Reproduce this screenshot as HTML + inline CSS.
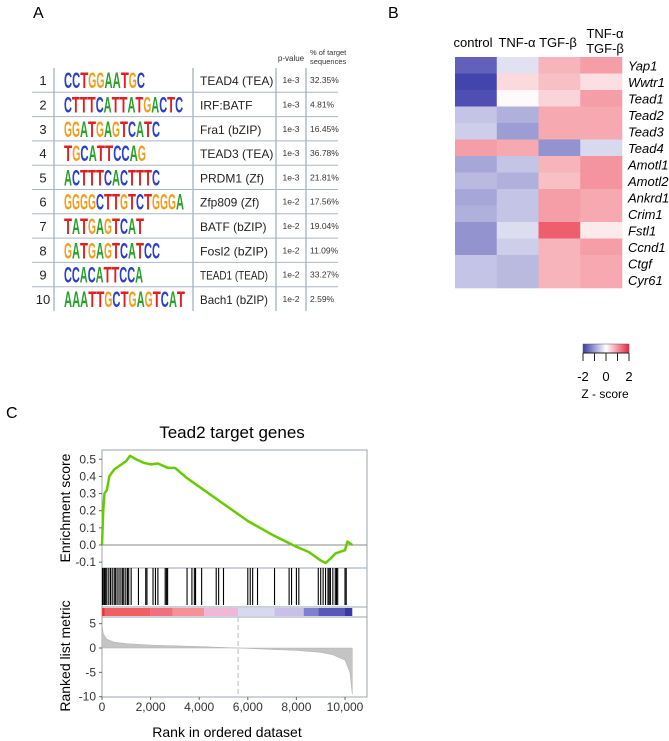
<!DOCTYPE html>
<html><head><meta charset="utf-8"><style>
body{margin:0;background:#fff;}
svg{display:block;font-family:"Liberation Sans",sans-serif;}
</style></head><body>
<svg id="fig" width="669" height="741" viewBox="0 0 669 741">
<text x="33" y="18" font-size="16">A</text>
<text x="388" y="18" font-size="16">B</text>
<text x="6" y="418" font-size="16">C</text>
<g id="tableA"></g>
<g id="heat"></g>
<g id="gsea"></g>
</svg>
<script>
const NS="http://www.w3.org/2000/svg";
function mk(p,t,a,txt){const e=document.createElementNS(NS,t);for(const k in a)e.setAttribute(k,a[k]);if(txt!==undefined)e.textContent=txt;p.appendChild(e);return e;}

// ---------- Panel A data ----------
const motifs=["CCTGGAATGC","CTTTCATTATGACTC","GGATGAGTCATC","TGCATTCCAG","ACTTTCACTTTC","GGGGCTTGTCTGGGA","TATGAGTCAT","GATGAGTCATCC","CCACATTCCA","AAATTGCTGAGTCAT"];
const motifNames=["TEAD4 (TEA)","IRF:BATF","Fra1 (bZIP)","TEAD3 (TEA)","PRDM1 (Zf)","Zfp809 (Zf)","BATF (bZIP)","Fosl2 (bZIP)","TEAD1 (TEAD)","Bach1 (bZIP)"];
const pvals=["1e-3","1e-3","1e-3","1e-3","1e-3","1e-2","1e-2","1e-2","1e-2","1e-2"];
const pcts=["32.35%","4.81%","16.45%","36.78%","21.81%","17.56%","19.04%","11.09%","33.27%","2.59%"];
const logoEnds=[145,183,160,146,160,184,144,160,143,185];
const baseCol={A:"#2aa02a",C:"#2a40c8",G:"#f0a020",T:"#e02020"};
(function(){
 const g=document.getElementById('tableA');
 const top=68,rh=24.3;
 mk(g,'text',{x:291,y:61,'font-size':8,'text-anchor':'middle',fill:'#333'},'p-value');
 mk(g,'text',{x:310,y:55,'font-size':7.5,fill:'#333'},'% of target');
 mk(g,'text',{x:310,y:64,'font-size':7.5,fill:'#333'},'sequences');
 [54,193,276,306].forEach(x=>{const l=mk(g,'line',{x1:x,x2:x,y1:top,y2:top+rh*10,stroke:'#8a9aa8','stroke-width':1});});
 for(let i=0;i<10;i++){
  const y=top+rh*i, cy=y+rh/2;
  const row=mk(g,'g',{});
  
  
  if(i<9){mk(row,'line',{x1:32,x2:338,y1:y+rh,y2:y+rh,stroke:'#a8b8c4','stroke-width':1});}
  mk(row,'text',{x:43,y:cy+5,'font-size':13,'text-anchor':'middle',fill:'#222'},String(i+1));
  const s=motifs[i], w=(logoEnds[i]-64)/s.length;
  for(let j=0;j<s.length;j++){
   mk(row,'text',{x:64+w*j,y:cy+8,'font-size':22,'font-weight':'bold',fill:baseCol[s[j]],textLength:w,lengthAdjust:'spacingAndGlyphs'},s[j]);
  }
  const nm=mk(row,'text',{x:200,y:cy+5,'font-size':12,fill:'#222'},motifNames[i]);
  if(motifNames[i].length>11){nm.setAttribute('textLength',68);nm.setAttribute('lengthAdjust','spacingAndGlyphs');}
  mk(row,'text',{x:291,y:cy+3,'font-size':8.5,'text-anchor':'middle',fill:'#333'},pvals[i]);
  mk(row,'text',{x:310,y:cy+3,'font-size':8.5,fill:'#333'},pcts[i]);
 }
})();

// ---------- Panel B data ----------
const conditions=["control","TNF-α","TGF-β","TNF-α/TGF-β"];
const genes=["Yap1","Wwtr1","Tead1","Tead2","Tead3","Tead4","Amotl1","Amotl2","Ankrd1","Crim1","Fstl1","Ccnd1","Ctgf","Cyr61"];
const zControl=[-1.6,-1.9,-1.8,-0.6,-0.5,0.9,-0.9,-0.7,-0.9,-0.8,-1.1,-1.1,-0.6,-0.6];
const zTNF=[-0.3,0.35,0.05,-0.8,-1.0,0.8,-0.6,-0.8,-0.6,-0.6,-0.35,-0.5,-0.7,-0.7];
const zTGF=[0.7,0.6,0.4,0.8,0.8,-1.1,0.7,0.6,0.9,0.9,1.5,0.7,0.7,0.7];
const zBoth=[0.9,0.3,0.9,0.8,0.8,-0.4,1.0,1.0,0.8,0.8,0.2,0.9,0.8,0.8];
const cbTicks=[-2,0,2];
function zcol(z){z=Math.max(-2,Math.min(2,z));let t=Math.abs(z)/2;let c=z<0?[58,58,170]:[232,40,60];
 const r=Math.round(255+(c[0]-255)*t),g=Math.round(255+(c[1]-255)*t),b=Math.round(255+(c[2]-255)*t);return `rgb(${r},${g},${b})`;}
(function(){
 const g=document.getElementById('heat');
 const x0=455,x1=622,y0=57,y1=288;const cw=(x1-x0)/4,rh=(y1-y0)/genes.length;
 const cols=[zControl,zTNF,zTGF,zBoth];
 cols.forEach((arr,c)=>arr.forEach((z,r)=>{const e=mk(g,'rect',{x:x0+c*cw,y:y0+r*rh,width:cw+0.3,height:rh+0.3,fill:zcol(z)});
  }));
 const hx=[473,517,558,605];
 conditions.forEach((c,i)=>{
  if(c.indexOf('/')>0){const p=c.split('/');mk(g,'text',{x:hx[i],y:38,'font-size':13,'text-anchor':'middle'},p[0]);mk(g,'text',{x:hx[i],y:53,'font-size':13,'text-anchor':'middle'},p[1]);}
  else mk(g,'text',{x:hx[i],y:47,'font-size':13,'text-anchor':'middle'},c);
 });
 genes.forEach((n,r)=>{const e=mk(g,'text',{x:628,y:y0+rh*r+rh/2+5,'font-size':13,'font-style':'italic'},n);});
 const bx0=583,bx1=629,by0=344,by1=353;
 const grad=mk(g,'defs',{});const lg=mk(grad,'linearGradient',{id:'cb',x1:0,x2:1,y1:0,y2:0});
 [-2,-1,0,1,2].forEach(z=>mk(lg,'stop',{offset:((z+2)/4),'stop-color':zcol(z)}));
 const cb=mk(g,'rect',{x:bx0,y:by0,width:bx1-bx0,height:by1-by0,fill:'url(#cb)',stroke:'#555','stroke-width':0.5});
 
 for(let k=0;k<5;k++){const x=bx0+(bx1-bx0)*k/4;mk(g,'line',{x1:x,x2:x,y1:by1,y2:by1+8,stroke:'#222'});}
 mk(g,'line',{x1:bx0,x2:bx1,y1:by1,y2:by1,stroke:'#222'});
 cbTicks.forEach(t=>mk(g,'text',{x:bx0+(bx1-bx0)*(t+2)/4,y:381,'font-size':13,'text-anchor':'middle'},String(t)));
 mk(g,'text',{x:605,y:398,'font-size':12,'text-anchor':'middle'},'Z - score');
})();

// ---------- Panel C data ----------
const esRanks=[0,50,100,200,300,500,700,1000,1150,1400,1700,2000,2300,2700,3000,3500,4000,5000,6000,7000,8000,8500,9000,9200,9400,9600,9800,10000,10100,10300];
const esValues=[0,0.2,0.3,0.32,0.4,0.44,0.46,0.49,0.52,0.5,0.48,0.47,0.475,0.45,0.45,0.39,0.34,0.24,0.14,0.06,-0.01,-0.04,-0.09,-0.105,-0.08,-0.05,-0.04,-0.03,0.02,0.0];
const hitRanks=[20,50,100,150,200,280,350,420,500,550,620,700,780,850,900,980,1050,1100,1200,1500,1800,1850,2100,2200,2300,2600,2650,2700,3500,3700,3800,3850,4100,4700,4800,5000,6000,6100,6200,6400,7100,7700,7800,8000,8100,8900,9000,9100,9200,9300,9350,9400,9500,9600,9650,9700,10000,10050];
const metricRanks=[0,50,200,500,1000,2000,4000,5600,7000,8000,9000,9500,10000,10200,10300];
const metricValues=[5,3,1.8,1.2,0.9,0.6,0.3,0,-0.3,-0.5,-0.9,-1.4,-2.5,-5,-9.5];
const stripStarts=[0,120,2000,2900,4200,5600,7100,8300,8900,10000];
const stripEnds=[120,2000,2900,4200,5600,7100,8300,8900,10000,10300];
const stripColors=["#e83838","#f06060","#f07080","#f89098","#f0b8d8","#d8d8f0","#c8c0e8","#8080d0","#5858b8","#3838a8"];
const esTicks=[0.5,0.4,0.3,0.2,0.1,0.0,-0.1];
const metricTicks=[5,0,-5,-10];
const xTicks=[0,2000,4000,6000,8000,10000];
const zeroCross=5600;
(function(){
 const g=document.getElementById('gsea');
 const L=102,R=367;
 const X=r=>L+r*(345-L)/10000;
 const YE=v=>545-v*171.5;
 const YM=v=>648-v*4.87;
 const eT=450,eB=568,hB=607,sB=617,mB=697;
 mk(g,'text',{x:232,y:438,'font-size':17,'text-anchor':'middle'},'Tead2 target genes');
 const fr=mk(g,'rect',{x:L,y:eT,width:R-L,height:mB-eT,fill:'none',stroke:'#9aa4ae','stroke-width':1});
 
 [eB,hB,sB].forEach(y=>mk(g,'line',{x1:L,x2:R,y1:y,y2:y,stroke:'#9aa4ae'}));
 mk(g,'line',{x1:L,x2:R,y1:YE(0),y2:YE(0),stroke:'#888'});
 const es=mk(g,'polyline',{points:esRanks.map((r,i)=>X(r)+','+YE(esValues[i])).join(' '),fill:'none',stroke:'#66cc00','stroke-width':2.5,'stroke-linejoin':'round'});
 
 hitRanks.forEach(r=>{const l=mk(g,'line',{x1:X(r),x2:X(r),y1:eB,y2:hB-2,stroke:'#000','stroke-width':1.1});});
 stripStarts.forEach((s,i)=>{const e=mk(g,'rect',{x:X(s),y:hB+1,width:X(stripEnds[i])-X(s),height:sB-hB-2,fill:stripColors[i]});});
 let d='M'+X(metricRanks[0])+','+YM(0);
 metricRanks.forEach((r,i)=>d+=' L'+X(r)+','+YM(metricValues[i]));
 d+=' L'+X(metricRanks[metricRanks.length-1])+','+YM(0)+' Z';
 const ar=mk(g,'path',{d:d,fill:'#c4c4c4',stroke:'#b0b0b0','stroke-width':0.5});
 
 mk(g,'line',{x1:X(zeroCross),x2:X(zeroCross),y1:sB,y2:mB,stroke:'#bbb','stroke-dasharray':'5,3'});
 esTicks.forEach(t=>{mk(g,'line',{x1:L-3,x2:L,y1:YE(t),y2:YE(t),stroke:'#666'});mk(g,'text',{x:L-6,y:YE(t)+4,'font-size':12,'text-anchor':'end',fill:'#333'},t.toFixed(1));});
 metricTicks.forEach(t=>{mk(g,'line',{x1:L-3,x2:L,y1:YM(t),y2:YM(t),stroke:'#666'});mk(g,'text',{x:L-6,y:YM(t)+4,'font-size':12,'text-anchor':'end',fill:'#333'},String(t));});
 xTicks.forEach(t=>{mk(g,'line',{x1:X(t),x2:X(t),y1:mB,y2:mB+3,stroke:'#666'});mk(g,'text',{x:X(t),y:711,'font-size':12,'text-anchor':'middle',fill:'#333'},t.toLocaleString('en-US'));});
 const yt1=mk(g,'text',{x:0,y:0,'font-size':14,'text-anchor':'middle',transform:'translate(70,508) rotate(-90)'},'Enrichment score');
 
 const yt2=mk(g,'text',{x:0,y:0,'font-size':14,'text-anchor':'middle',transform:'translate(70,656) rotate(-90)'},'Ranked list metric');
 
 const xt=mk(g,'text',{x:227,y:737,'font-size':14,'text-anchor':'middle'},'Rank in ordered dataset');
 
})();
</script>
</body></html>
